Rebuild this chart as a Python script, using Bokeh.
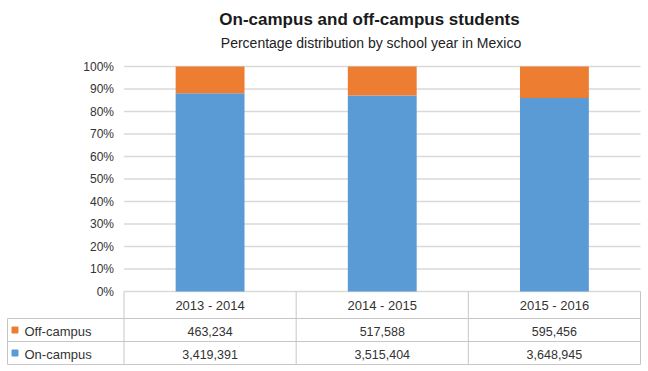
from bokeh.plotting import figure
from bokeh.models import Range1d, ColumnDataSource
from bokeh.core.properties import value
from bokeh.embed import file_html
from bokeh.resources import INLINE

# ---------------- data ----------------
years = ["2013 - 2014", "2014 - 2015", "2015 - 2016"]
off_campus = [463234, 517588, 595456]
on_campus = [3419391, 3515404, 3648945]
series_names = ["Off-campus", "On-campus"]
y_ticks = [0, 10, 20, 30, 40, 50, 60, 70, 80, 90, 100]
y_tick_labels = [f"{t}%" for t in y_ticks]
title_text = "On-campus and off-campus students"
subtitle_text = "Percentage distribution by school year in Mexico"

# ---------------- styles ----------------
BLUE = "#5B9BD5"
ORANGE = "#ED7D31"
GRID = "#D9D9D9"
TABLE_LINE = "#C6C6C6"
TXT = "#333333"
FONT = "Liberation Sans"

W, H = 642, 367
PAGE = 0
# layout helpers (page-pixel -> data units)
PPU = (640 - 123.5) / 3.0            # pixels per category unit
X0 = -0.5 - (123.5 - PAGE) / PPU       # data x at left frame edge
X1 = 2.5 + (PAGE + W - 640) / PPU
PPP = (291 - 66) / 100.0              # pixels per percent
ROW_H = 23.0
TABLE_TOP_PX = 295.0                  # table row-unit origin


def px2x(px):
    return X0 + (px - PAGE) / PPU


def px2y(py):
    return (291 - py) / PPP


def ty(py):
    return (py - TABLE_TOP_PX) / ROW_H


HEADER_TOP = ty(291)

n = len(years)
xs = list(range(n))
totals = [a + b for a, b in zip(off_campus, on_campus)]
on_pct = [100.0 * v / t for v, t in zip(on_campus, totals)]
off_pct = [100.0 * v / t for v, t in zip(off_campus, totals)]
src = ColumnDataSource(dict(x=xs, on=on_pct, off=off_pct))

p = figure(width=W, height=H, output_backend="svg", toolbar_location=None,
           x_range=Range1d(X0, X1), y_range=Range1d(px2y(PAGE + H), px2y(PAGE)),
           x_axis_location=None, y_axis_location=None, min_border=0)
p.grid.visible = False
p.outline_line_color = None
p.extra_y_ranges = {"table": Range1d(start=ty(PAGE + H), end=ty(PAGE))}

# gridlines
p.segment(x0=-0.5, x1=2.5, y0="y", y1="y", source=ColumnDataSource(dict(y=y_ticks)),
          line_color=GRID, line_width=1.3)

# stacked bars
p.vbar_stack(["on", "off"], x="x", width=0.4, color=[BLUE, ORANGE], source=src,
             line_color=None)

# y tick labels
p.text(x=-0.5, y=y_ticks, text=y_tick_labels, x_offset=-10, text_align="right",
       text_baseline="middle", text_font=value(FONT), text_font_size="12px",
       text_color=TXT)

# titles
p.text(x=[px2x(369)], y=[px2y(19)], text=[title_text], text_align="center",
       text_baseline="middle", text_font=value(FONT), text_font_size="17px",
       text_font_style="bold", text_color="#1A1A1A")
p.text(x=[px2x(370.5)], y=[px2y(42)], text=[subtitle_text], text_align="center",
       text_baseline="middle", text_font=value(FONT), text_font_size="14px",
       text_color="#222222")

# ---------------- data table ----------------
col_edges = [-0.5, 0.5, 1.5, 2.5]
p.segment(x0=col_edges, x1=col_edges, y0=HEADER_TOP, y1=3, y_range_name="table",
          line_color=TABLE_LINE, line_width=1)
p.segment(x0=px2x(7), x1=px2x(7), y0=1, y1=3, y_range_name="table",
          line_color=TABLE_LINE, line_width=1)
p.segment(x0=px2x(7), x1=2.5, y0=[1, 2, 3], y1=[1, 2, 3], y_range_name="table",
          line_color=TABLE_LINE, line_width=1)

p.text(x=xs, y=[0.5] * n, text=years, y_range_name="table", y_offset=-2,
       text_align="center", text_baseline="middle", text_font=value(FONT),
       text_font_size="13px", text_color=TXT)
fmt = lambda v: f"{v:,}"
p.text(x=xs, y=[1.5] * n, text=[fmt(v) for v in off_campus], y_range_name="table",
       y_offset=1, text_align="center", text_baseline="middle", text_font=value(FONT),
       text_font_size="12.5px", text_color=TXT)
p.text(x=xs, y=[2.5] * n, text=[fmt(v) for v in on_campus], y_range_name="table",
       y_offset=1, text_align="center", text_baseline="middle", text_font=value(FONT),
       text_font_size="12.5px", text_color=TXT)

# legend keys and row labels
p.scatter(x=[px2x(14.5)] * 2, y=[1.5, 2.5], marker="square", size=6,
          color=[ORANGE, BLUE], y_range_name="table")
p.text(x=[px2x(24)] * 2, y=[1.5, 2.5], text=series_names, y_range_name="table",
       y_offset=1, text_align="left", text_baseline="middle", text_font=value(FONT),
       text_font_size="13px", text_color=TXT)

open("out.html", "w").write(file_html(p, INLINE))
